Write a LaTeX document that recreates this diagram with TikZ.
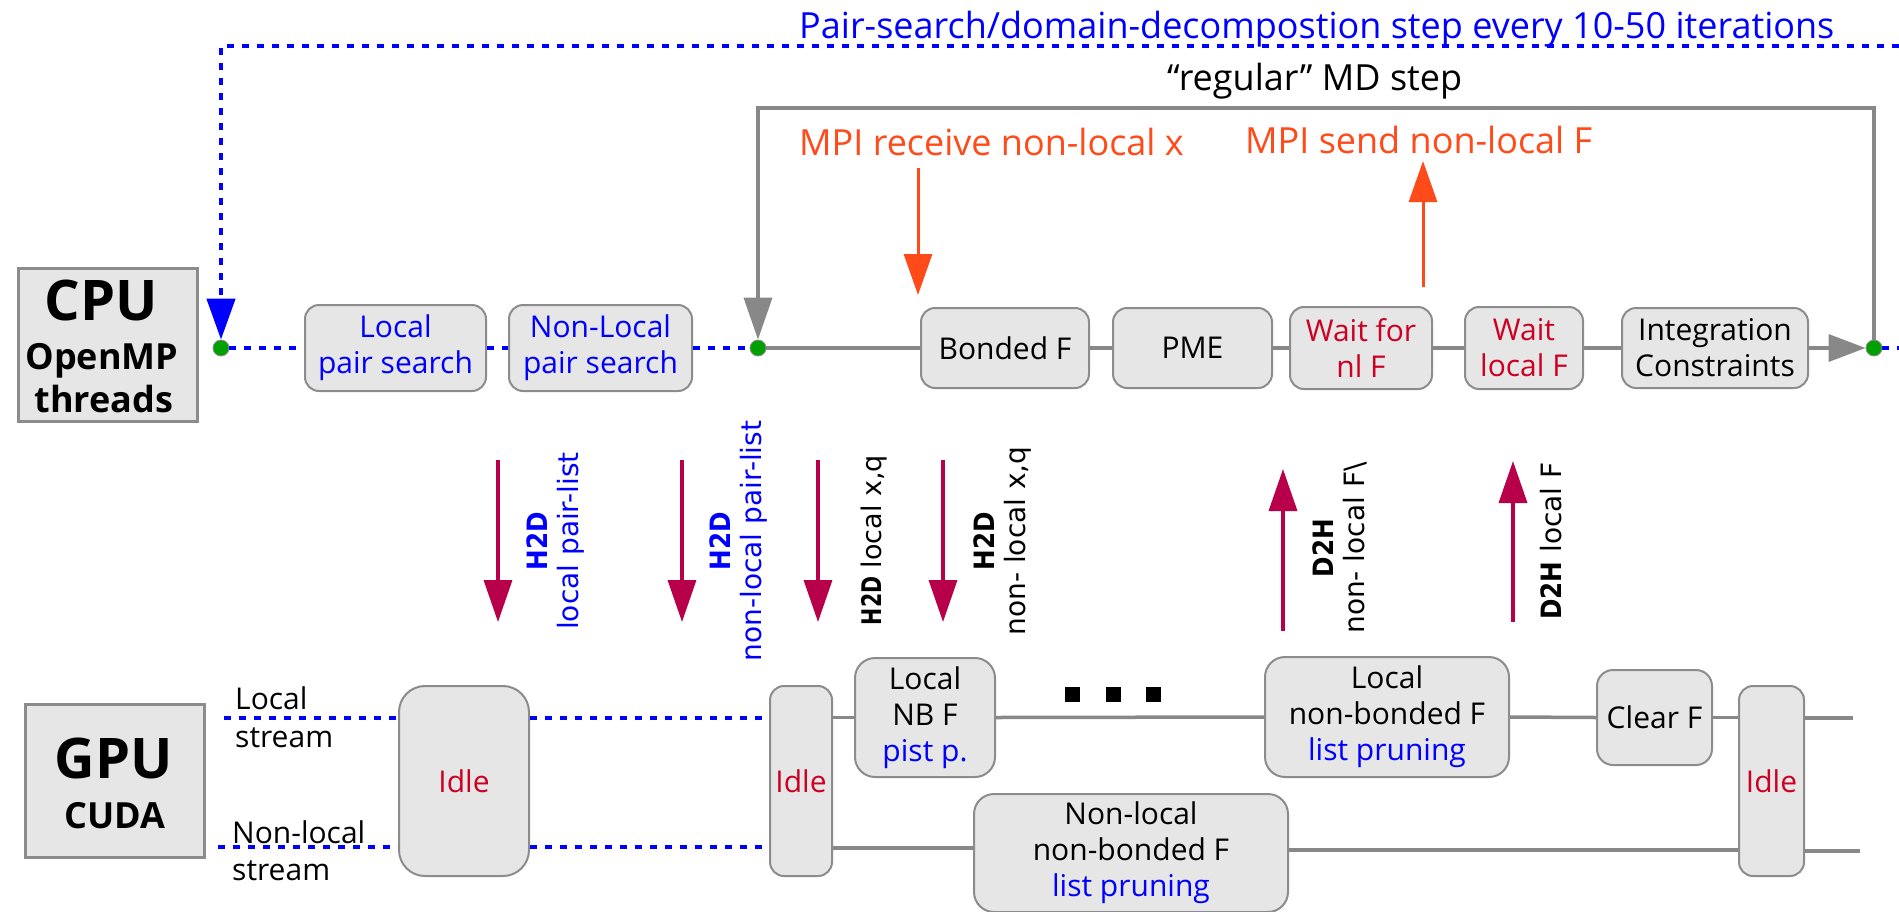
\documentclass[tikz,border=0pt]{standalone}
\usepackage{fontspec}
\usepackage{graphicx}
\setmainfont{Open Sans}
\newfontfamily\vfont{DejaVu Sans}
\usetikzlibrary{arrows.meta}

\definecolor{boxfill}{HTML}{E6E6E6}
\definecolor{boxline}{HTML}{8C8C8C}
\definecolor{flowgray}{HTML}{888888}
\definecolor{waitred}{HTML}{CC0022}
\definecolor{mpiorange}{HTML}{FF4A1A}
\definecolor{xferred}{HTML}{B8004A}
\definecolor{dotgreen}{HTML}{00A000}

% narrowed bold tag used in the transfer labels
\newcommand\xtag[2][0.88]{\scalebox{#1}[1]{\bfseries #2}}

\tikzset{
  x=1pt, y=-1pt,
  lbl/.style={inner sep=0pt},
  txt30/.style={font=\fontsize{30}{36}\selectfont},
  txt36/.style={font=\fontsize{36}{43}\selectfont},
  task/.style={draw=boxline, fill=boxfill, line width=2pt, rounded corners=14pt,
    inner sep=0pt, align=center, font=\fontsize{30}{36}\selectfont},
  unitbox/.style={draw=boxline, fill=boxfill, line width=3pt, inner sep=0pt},
  gdot/.style={circle, fill=dotgreen, draw=boxline, line width=0.8pt,
    minimum size=16pt, inner sep=0pt},
  bluedash/.style={draw=blue, line width=4.5pt, dash pattern=on 7pt off 8pt},
  flow/.style={draw=flowgray, line width=3.5pt},
  bigtip/.style={-{Triangle[length=42pt,width=28pt]}},
  xfer/.style={draw=xferred, line width=3.5pt, bigtip},
  mpi/.style={draw=mpiorange, line width=3pt, -{Triangle[length=41pt,width=28pt]}},
  vlab/.style={rotate=90, inner sep=0pt, align=center,
    font=\vfont\fontsize{28}{31}\selectfont},
}

\begin{document}
\begin{tikzpicture}
\useasboundingbox (0,0) rectangle (1899,911);
\fill[white] (0,0) rectangle (1899,911);
\clip (0,0) rectangle (1899,911);

% ---------------- CPU row ----------------
\node[unitbox, minimum width=179pt, minimum height=153pt] (cpu) at (107.5,344.5) {};
\node[lbl, anchor=base, font=\fontsize{56}{56}\selectfont\bfseries] (cpuT) at (101,320) {CPU};
\node[lbl, anchor=base, font=\fontsize{36}{36}\selectfont\bfseries] (cpuO) at (102,369) {OpenMP};
\node[lbl, anchor=base, font=\fontsize{36}{36}\selectfont\bfseries] (cpuH) at (104,412) {threads};

\node[gdot] (g1) at (221,348) {};
\node[gdot] (g2) at (758,348) {};
\node[gdot] (g3) at (1874,348) {};

\node[task, text=blue, minimum width=181pt, minimum height=86pt] (lps) at (395.5,348) {Local\\pair search};
\node[task, text=blue, minimum width=183pt, minimum height=86pt] (nlps) at (600.5,348) {Non-Local\\pair search};
\node[task, minimum width=168pt, minimum height=80pt] (bond) at (1005,348) {Bonded F};
\node[task, minimum width=159pt, minimum height=80pt] (pme) at (1192.5,348) {PME};
\node[task, text=waitred, minimum width=142pt, minimum height=82pt] (wnl) at (1361,348) {Wait for\\nl F};
\node[task, text=waitred, minimum width=118pt, minimum height=82pt] (wl) at (1524,348) {Wait\\local F};
\node[task, minimum width=186pt, minimum height=80pt] (integ) at (1715,348) {Integration\\Constraints};

\coordinate (cpuEnd) at (1899,348);
\coordinate (topR) at (1899,46);
\coordinate (loopTop) at (1874,108);

% pair-search path (blue, dotted)
\draw[bluedash] (g1) -- (lps);
\draw[bluedash] (lps) -- (nlps);
\draw[bluedash] (nlps) -- (g2);
\draw[bluedash] (g3) -- (cpuEnd);
\draw[bluedash, -{Triangle[length=41pt,width=28pt]}] (topR) -| (g1);

% regular MD step path (gray)
\draw[flow] (g2) -- (bond);
\draw[flow] (bond) -- (pme);
\draw[flow] (pme) -- (wnl);
\draw[flow] (wnl) -- (wl);
\draw[flow] (wl) -- (integ);
\draw[flow, -{Triangle[length=37pt,width=27pt]}] (integ) -- (g3);
\draw[flow, bigtip] (g3) -- (loopTop) -| (g2);

\node[lbl, anchor=base west, txt36, text=blue] (pstext) at (799,38)
  {Pair-search/domain-decompostion step every 10-50 iterations};
\node[lbl, anchor=base west, txt36] (mdtext) at (1167,90) {“regular” MD step};
\node[lbl, anchor=base west, txt36, text=mpiorange] (mpirecv) at (799,155) {MPI receive non-local x};
\node[lbl, anchor=base west, txt36, text=mpiorange] (mpisend) at (1245,153) {MPI send non-local F};

\coordinate (mrA) at (918,168);
\coordinate (mrB) at (918,295);
\coordinate (msA) at (1423,287);
\coordinate (msB) at (1423,161);
\draw[mpi] (mrA) -- (mrB);
\draw[mpi] (msA) -- (msB);

% ---------------- transfers ----------------
\foreach \n/\xx in {1/498, 2/682, 3/818, 4/943} {
  \coordinate (h\n a) at (\xx,460);
  \coordinate (h\n b) at (\xx,622);
  \draw[xfer] (h\n a) -- (h\n b);
}
\coordinate (d1a) at (1283,631);
\coordinate (d1b) at (1283,469);
\coordinate (d2a) at (1513,622);
\coordinate (d2b) at (1513,461);
\draw[xfer] (d1a) -- (d1b);
\draw[xfer] (d2a) -- (d2b);

\node[vlab, text=blue] (v1) at (556,541) {\xtag{H2D}\\local pair-list};
\node[vlab, text=blue] (v2) at (739,541) {\xtag{H2D}\\non-local pair-list};
\node[vlab, font=\vfont\fontsize{27}{30}\selectfont] (v3) at (874,540) {\xtag[0.76]{H2D} local x,q};
\node[vlab] (v4) at (1003,541) {\xtag{H2D}\\non- local x,q};
\node[vlab] (v5) at (1340,548) {\xtag{D2H}\\non- local F\textbackslash};
\node[vlab] (v6) at (1551,541) {\xtag{D2H} local F};

% ---------------- GPU rows ----------------
\node[unitbox, minimum width=179pt, minimum height=153pt] (gpu) at (114.5,780.5) {};
\node[lbl, anchor=base, font=\fontsize{56}{56}\selectfont\bfseries] (gpuT) at (114,778) {GPU};
\node[lbl, anchor=base, font=\fontsize{36}{36}\selectfont\bfseries] (gpuC) at (115,828) {CUDA};

\node[lbl, anchor=base west, txt30] (lsA) at (235,709) {Local};
\node[lbl, anchor=base west, txt30] (lsB) at (235,747) {stream};
\node[lbl, anchor=base west, txt30] (nlsA) at (232,843) {Non-local};
\node[lbl, anchor=base west, txt30] (nlsB) at (232,880) {stream};

\node[task, text=waitred, rounded corners=26pt, minimum width=130pt, minimum height=190pt] (idle1) at (464,781) {Idle};
\node[task, text=waitred, minimum width=62pt, minimum height=190pt] (idle2) at (801,781) {Idle};
\node[task, rounded corners=20pt, minimum width=140pt, minimum height=119pt] (lnb) at (925,717.5)
  {Local\\NB F\\\textcolor{blue}{pist p.}};
\node[task, rounded corners=20pt, minimum width=244pt, minimum height=120pt] (lnbf) at (1387,717)
  {Local\\non-bonded F\\\textcolor{blue}{list pruning}};
\node[task, rounded corners=16pt, minimum width=115pt, minimum height=95pt] (clr) at (1654.5,717.5) {Clear F};
\node[task, text=waitred, minimum width=65pt, minimum height=190pt] (idle3) at (1771.5,781) {Idle};
\node[task, rounded corners=20pt, minimum width=314pt, minimum height=118pt] (nlb) at (1131,853)
  {Non-local\\non-bonded F\\\textcolor{blue}{list pruning}};

\coordinate (lsL) at (224,718);
\coordinate (lsR) at (1853,718);
\coordinate (nlsL) at (218,847);
\coordinate (nlsM) at (0,848);
\coordinate (nlsN) at (0,850);
\coordinate (nlsR) at (1860,851);

% local stream
\draw[bluedash] (lsL) -- (lsL -| idle1.west);
\draw[bluedash] (lsL -| idle1.east) -- (lsL -| idle2.west);
\draw[flow] (lnb.west -| idle2.east) -- (lnb.west);
\draw[flow] (lnb.east) -- (lnbf.west);
\draw[flow] (lnbf.east) -- (clr.west);
\draw[flow] (clr.east) -- (clr.east -| idle3.west);
\draw[flow] (lsR -| idle3.east) -- (lsR);

% non-local stream
\draw[bluedash] (nlsL) -- (nlsL -| idle1.west);
\draw[bluedash] (nlsL -| idle1.east) -- (nlsL -| idle2.west);
\draw[flow] (nlsM -| idle2.east) -- (nlsM -| nlb.west);
\draw[flow] (nlsN -| nlb.east) -- (nlsN -| idle3.west);
\draw[flow] (nlsR -| idle3.east) -- (nlsR);

% dots between the local kernels
\fill (1065,687) rectangle (1080,702);
\fill (1106,687) rectangle (1121,702);
\fill (1146,687) rectangle (1161,702);
\end{tikzpicture}
\end{document}
